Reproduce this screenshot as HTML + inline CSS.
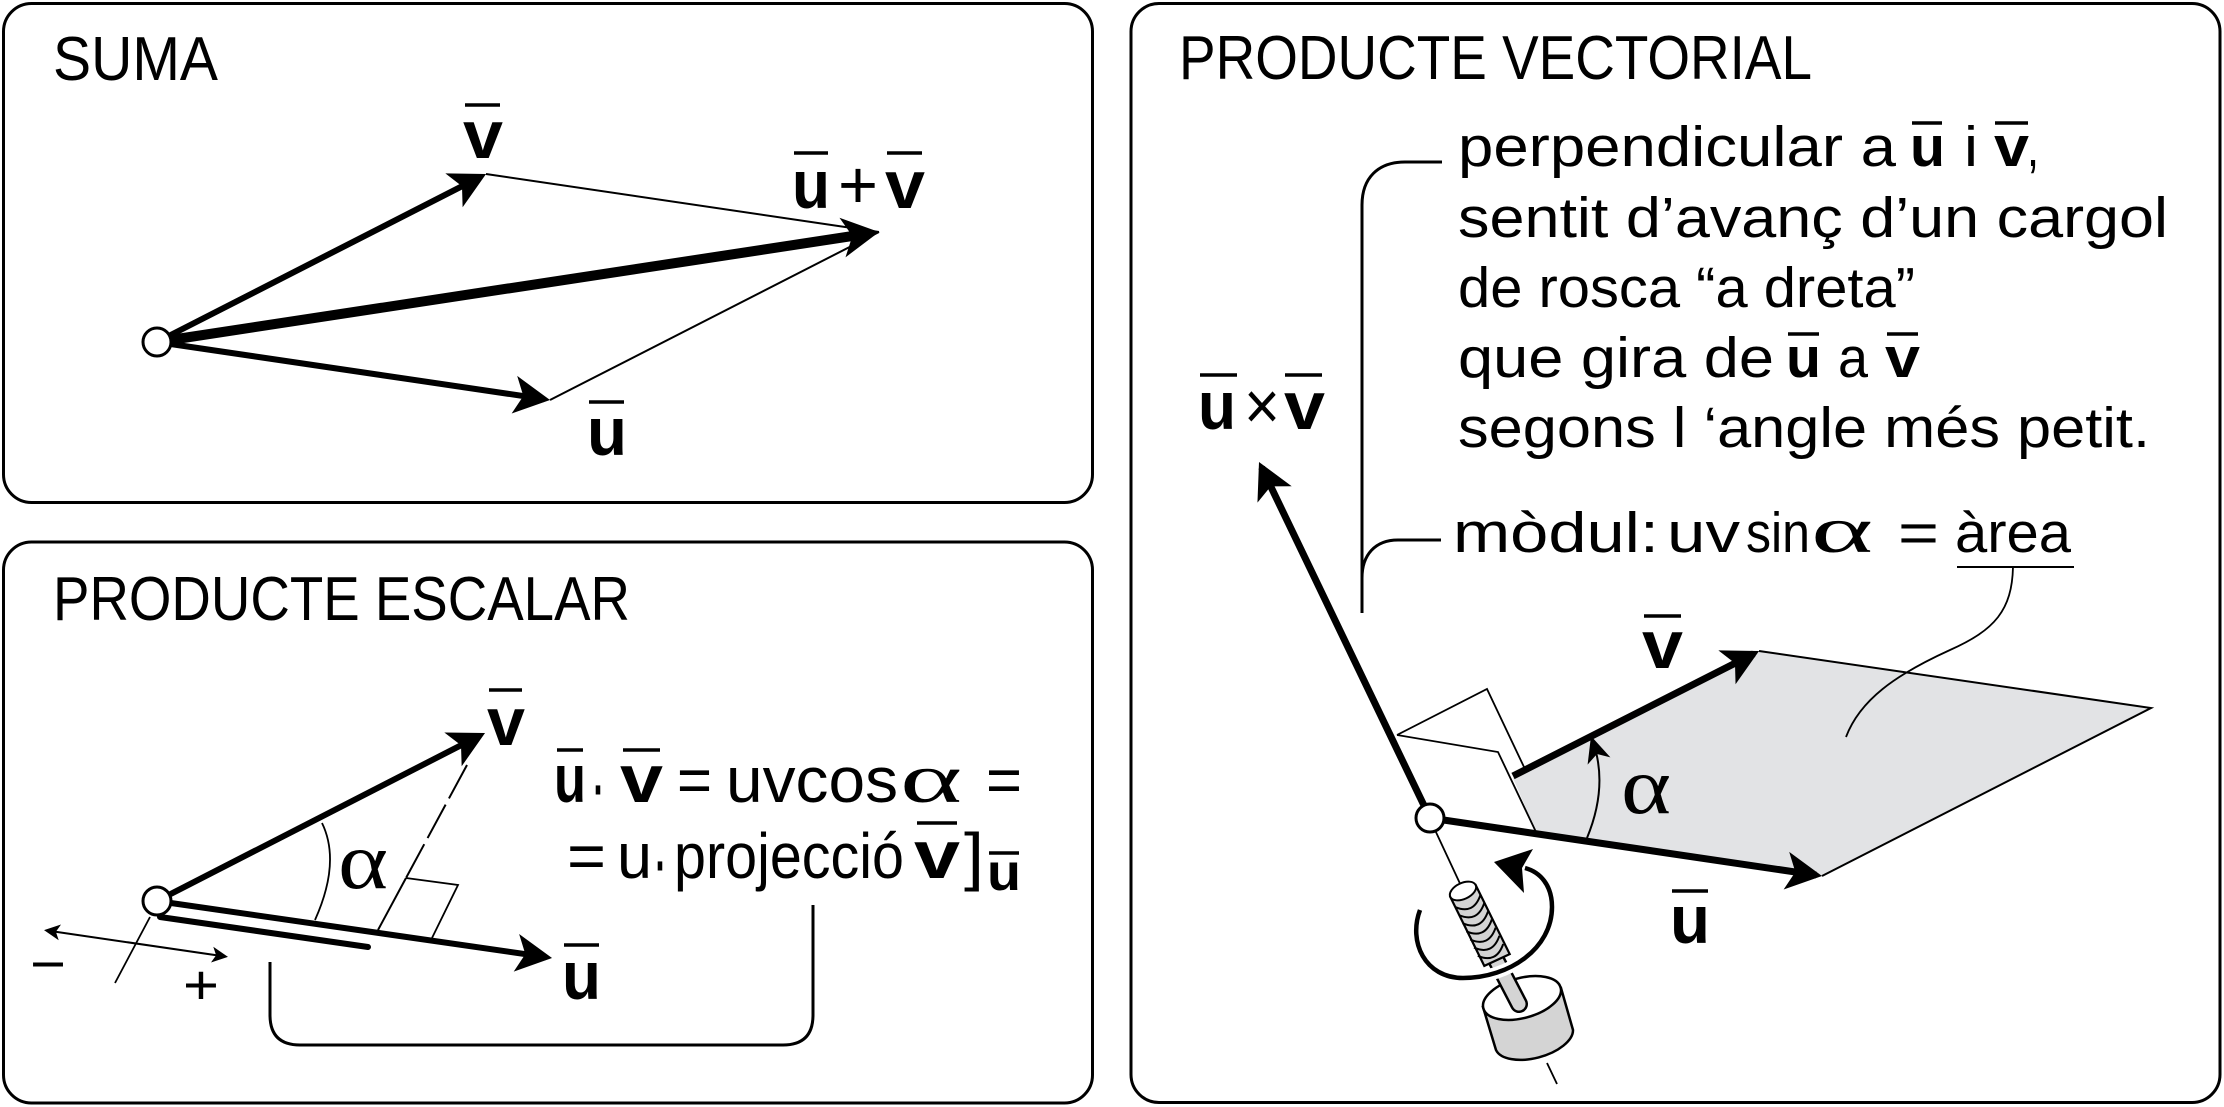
<!DOCTYPE html>
<html><head><meta charset="utf-8">
<style>
html,body{margin:0;padding:0;background:#fff;}
svg{display:block;}
text{font-family:"Liberation Sans",sans-serif;fill:#000;}
.b{font-weight:bold;}
.g{font-family:"Liberation Serif",serif;}
</style></head><body>
<svg width="2224" height="1107" viewBox="0 0 2224 1107" xmlns="http://www.w3.org/2000/svg">
<defs>
<marker id="ah" viewBox="-40 -25 50 50" markerWidth="50" markerHeight="50" refX="0" refY="0" markerUnits="userSpaceOnUse" orient="auto">
<path d="M6,0 L-30,-19 L-21,0 L-30,19 Z" fill="#000"/>
</marker>
<marker id="ahT" viewBox="-40 -25 60 50" markerWidth="60" markerHeight="50" refX="0" refY="0" markerUnits="userSpaceOnUse" orient="auto">
<path d="M14,0 L-23,-20 L-13,0 L-23,20 Z" fill="#000"/>
</marker>
<marker id="sm" viewBox="-20 -12 26 24" markerWidth="26" markerHeight="24" refX="0" refY="0" markerUnits="userSpaceOnUse" orient="auto-start-reverse">
<path d="M3,0 L-13,-8 L-9,0 L-13,8 Z" fill="#000"/>
</marker>
</defs>

<!-- Panels -->
<rect x="3.5" y="3.5" width="1089" height="499" rx="28" fill="none" stroke="#000" stroke-width="3"/>
<rect x="3.5" y="542" width="1089" height="561" rx="28" fill="none" stroke="#000" stroke-width="3"/>
<rect x="1131" y="3.5" width="1089" height="1099" rx="28" fill="none" stroke="#000" stroke-width="3"/>

<!-- Titles -->
<text x="53" y="80" font-size="62" textLength="165" lengthAdjust="spacingAndGlyphs">SUMA</text>
<text x="53" y="620" font-size="62" textLength="577" lengthAdjust="spacingAndGlyphs">PRODUCTE ESCALAR</text>
<text x="1179" y="79" font-size="62" textLength="633" lengthAdjust="spacingAndGlyphs">PRODUCTE VECTORIAL</text>

<!-- ===== SUMA ===== -->
<path d="M486,174 L879,232 M550,400 L879,232" stroke="#000" stroke-width="2" fill="none"/>
<line x1="157" y1="342" x2="480.7" y2="176.7" stroke="#000" stroke-width="6" marker-end="url(#ah)"/>
<line x1="157" y1="342" x2="544.1" y2="399.1" stroke="#000" stroke-width="6" marker-end="url(#ah)"/>
<line x1="157" y1="342" x2="865.2" y2="234.1" stroke="#000" stroke-width="10" marker-end="url(#ahT)"/>
<circle cx="157" cy="342" r="14" fill="#fff" stroke="#000" stroke-width="3"/>

<text class="b" x="463" y="158" font-size="68" textLength="40" lengthAdjust="spacingAndGlyphs">v</text>
<line x1="465" y1="105" x2="500" y2="105" stroke="#000" stroke-width="3.5"/>
<text class="b" x="792" y="208" font-size="68" textLength="38" lengthAdjust="spacingAndGlyphs">u</text>
<text x="838" y="208" font-size="68" textLength="40" lengthAdjust="spacingAndGlyphs">+</text>
<text class="b" x="885" y="208" font-size="68" textLength="40" lengthAdjust="spacingAndGlyphs">v</text>
<line x1="794" y1="153" x2="828" y2="153" stroke="#000" stroke-width="3.5"/>
<line x1="887" y1="153" x2="922" y2="153" stroke="#000" stroke-width="3.5"/>
<text class="b" x="587" y="455" font-size="68" textLength="40" lengthAdjust="spacingAndGlyphs">u</text>
<line x1="589" y1="402" x2="624" y2="402" stroke="#000" stroke-width="3.5"/>

<!-- ===== PRODUCTE ESCALAR ===== -->
<path d="M467,765 L406,878" stroke="#000" stroke-width="2" stroke-dasharray="38,7" fill="none"/>
<path d="M406,878 L378,930" stroke="#000" stroke-width="2" fill="none"/>
<path d="M406,878 L458,885 L432,938" stroke="#000" stroke-width="1.8" fill="none"/>
<path d="M322,823 Q341,862 315,920" stroke="#000" stroke-width="1.8" fill="none"/>
<line x1="157" y1="901" x2="479.7" y2="735.7" stroke="#000" stroke-width="6" marker-end="url(#ah)"/>
<line x1="157" y1="901" x2="546.1" y2="957.1" stroke="#000" stroke-width="6" marker-end="url(#ah)"/>
<path d="M160,917 L368,947" stroke="#000" stroke-width="6" stroke-linecap="round" fill="none"/>
<path d="M150,917 L115,983" stroke="#000" stroke-width="1.8" fill="none"/>
<line x1="47" y1="930.5" x2="225" y2="956.5" stroke="#000" stroke-width="2" marker-start="url(#sm)" marker-end="url(#sm)"/>
<circle cx="157" cy="901" r="14" fill="#fff" stroke="#000" stroke-width="3"/>

<text x="30" y="983" font-size="56" textLength="36" lengthAdjust="spacingAndGlyphs">−</text>
<text x="183" y="1004" font-size="56" textLength="36" lengthAdjust="spacingAndGlyphs">+</text>
<text class="g" x="338" y="888" font-size="80" textLength="50" lengthAdjust="spacingAndGlyphs">α</text>

<text class="b" x="487" y="745" font-size="68" textLength="38" lengthAdjust="spacingAndGlyphs">v</text>
<line x1="489" y1="690" x2="522" y2="690" stroke="#000" stroke-width="3.5"/>
<text class="b" x="562" y="999" font-size="68" textLength="39" lengthAdjust="spacingAndGlyphs">u</text>
<line x1="564" y1="945" x2="599" y2="945" stroke="#000" stroke-width="3.5"/>

<!-- formula -->
<text class="b" x="554" y="802" font-size="68" textLength="32" lengthAdjust="spacingAndGlyphs">u</text>
<line x1="557" y1="750" x2="583" y2="750" stroke="#000" stroke-width="3.5"/>
<text x="590" y="813" font-size="84" textLength="16" lengthAdjust="spacingAndGlyphs">·</text>
<text class="b" x="620" y="802" font-size="68" textLength="43" lengthAdjust="spacingAndGlyphs">v</text>
<line x1="623" y1="750" x2="660" y2="750" stroke="#000" stroke-width="3.5"/>
<text x="677" y="802" font-size="64" textLength="35" lengthAdjust="spacingAndGlyphs">=</text>
<text x="726" y="802" font-size="64" textLength="172" lengthAdjust="spacingAndGlyphs">uvcos</text>
<text class="g" x="900" y="802" font-size="70" textLength="62" lengthAdjust="spacingAndGlyphs">α</text>
<text x="986" y="802" font-size="64" textLength="36" lengthAdjust="spacingAndGlyphs">=</text>

<text x="567" y="878" font-size="64" textLength="39" lengthAdjust="spacingAndGlyphs">=</text>
<text x="617" y="878" font-size="64" textLength="35" lengthAdjust="spacingAndGlyphs">u</text>
<text x="652" y="889" font-size="84" textLength="16" lengthAdjust="spacingAndGlyphs">·</text>
<text x="674" y="878" font-size="64" textLength="230" lengthAdjust="spacingAndGlyphs">projecció</text>
<text class="b" x="914" y="878" font-size="68" textLength="46" lengthAdjust="spacingAndGlyphs">v</text>
<line x1="917" y1="823" x2="957" y2="823" stroke="#000" stroke-width="3.5"/>
<text x="964" y="878" font-size="64" textLength="20" lengthAdjust="spacingAndGlyphs">]</text>
<text class="b" x="987" y="890" font-size="52" textLength="34" lengthAdjust="spacingAndGlyphs">u</text>
<line x1="989" y1="853" x2="1019" y2="853" stroke="#000" stroke-width="3.5"/>

<path d="M813,905 L813,1015 Q813,1045 783,1045 L300,1045 Q270,1045 270,1015 L270,962" stroke="#000" stroke-width="3" fill="none"/>

<!-- ===== PRODUCTE VECTORIAL ===== -->
<polygon points="1513,778 1759,651 2151,708 1822,876 1536,832" fill="#e2e3e5"/>
<path d="M1759,651 L2151,708 L1822,876" stroke="#000" stroke-width="2" fill="none"/>
<path d="M1397,735 L1487,689 L1524,767" stroke="#000" stroke-width="1.8" fill="none"/>
<path d="M1397,735 L1498,752 L1536,832" stroke="#000" stroke-width="1.8" fill="none"/>

<!-- alpha arc -->
<path d="M1587,838 Q1606,792 1596,752" stroke="#000" stroke-width="2" fill="none"/>
<path d="M1591,736 L1587.6,764.6 L1597,754 L1610.4,757.4 Z" fill="#000"/>
<text class="g" x="1621" y="813" font-size="80" textLength="50" lengthAdjust="spacingAndGlyphs">α</text>

<!-- axis -->
<path d="M1435,830 L1463,890 M1547,1063 L1557,1084" stroke="#000" stroke-width="1.8" fill="none"/>

<!-- nut -->
<path d="M1483,1007 L1496,1050 A40 20 -15 0 0 1573,1030 L1561,988 Z" fill="#d4d4d4" stroke="#000" stroke-width="2.5"/>
<ellipse cx="1522" cy="998" rx="40" ry="20" transform="rotate(-15 1522 998)" fill="#fff" stroke="#000" stroke-width="2.5"/>
<!-- shaft -->
<path d="M1492,952 L1519,1004" stroke="#000" stroke-width="18" stroke-linecap="round" fill="none"/>
<path d="M1492,952 L1519,1004" stroke="#d4d4d4" stroke-width="13" stroke-linecap="round" fill="none"/>

<!-- bolt threads -->
<polygon points="1475.7,885.1 1450.3,896.9 1484.3,965.9 1509.7,954.1" fill="#d4d4d4" stroke="#000" stroke-width="2.2"/>
<g stroke="#000" stroke-width="2" fill="none">
<path d="M1455.0,906.9 Q1473.6,915.0 1480.4,895.1"/>
<path d="M1458.8,915.0 Q1477.4,923.1 1484.2,903.2"/>
<path d="M1462.6,923.2 Q1481.2,931.3 1488.0,911.4"/>
<path d="M1466.4,931.3 Q1485.0,939.4 1491.8,919.5"/>
<path d="M1470.2,939.5 Q1488.8,947.6 1495.6,927.7"/>
<path d="M1474.0,947.6 Q1492.6,955.7 1499.4,935.8"/>
<path d="M1477.8,955.8 Q1496.4,963.9 1503.2,944.0"/>
</g>
<ellipse cx="1463" cy="891" rx="14" ry="8" transform="rotate(-25 1463 891)" fill="#fff" stroke="#000" stroke-width="2"/>

<!-- rotation arrow -->
<path d="M1420,910 C1408,942 1425,978 1463,978 C1510,978 1552,948 1552,907 C1552,885 1540,872 1525,868" stroke="#fff" stroke-width="12" fill="none"/>
<path d="M1420,910 C1408,942 1425,978 1463,978 C1510,978 1552,948 1552,907 C1552,885 1540,872 1525,868" stroke="#000" stroke-width="4.5" fill="none"/>
<path d="M1494,862 L1533,849 L1522,868 L1524,893 Z" fill="#000"/>

<!-- vectors -->
<line x1="1430" y1="818" x2="1261.6" y2="467.4" stroke="#000" stroke-width="7" marker-end="url(#ah)"/>
<line x1="1430" y1="818" x2="1816.1" y2="875.1" stroke="#000" stroke-width="7" marker-end="url(#ah)"/>
<line x1="1513" y1="776" x2="1753.7" y2="653.7" stroke="#000" stroke-width="7" marker-end="url(#ah)"/>
<circle cx="1430" cy="818" r="14" fill="#fff" stroke="#000" stroke-width="3"/>

<!-- vector labels -->
<text class="b" x="1198" y="429" font-size="68" textLength="38" lengthAdjust="spacingAndGlyphs">u</text>
<text x="1244" y="429" font-size="68" textLength="36" lengthAdjust="spacingAndGlyphs">×</text>
<text class="b" x="1284" y="429" font-size="68" textLength="41" lengthAdjust="spacingAndGlyphs">v</text>
<line x1="1200" y1="375" x2="1237" y2="375" stroke="#000" stroke-width="3.5"/>
<line x1="1285" y1="375" x2="1322" y2="375" stroke="#000" stroke-width="3.5"/>

<text class="b" x="1642" y="668" font-size="68" textLength="41" lengthAdjust="spacingAndGlyphs">v</text>
<line x1="1644" y1="616" x2="1681" y2="616" stroke="#000" stroke-width="3.5"/>
<text class="b" x="1670" y="943" font-size="68" textLength="40" lengthAdjust="spacingAndGlyphs">u</text>
<line x1="1672" y1="891" x2="1708" y2="891" stroke="#000" stroke-width="3.5"/>

<!-- bracket -->
<path d="M1442,162 L1405,162 C1378,162 1362,178 1362,205 L1362,613" stroke="#000" stroke-width="3" fill="none"/>
<path d="M1362,578 C1362,555 1375,540 1398,540 L1441,540" stroke="#000" stroke-width="3" fill="none"/>

<!-- text block -->
<text x="1458" y="166" font-size="57" textLength="438" lengthAdjust="spacingAndGlyphs">perpendicular a</text>
<text class="b" x="1910" y="166" font-size="57" textLength="35" lengthAdjust="spacingAndGlyphs">u</text>
<line x1="1912" y1="123" x2="1942" y2="123" stroke="#000" stroke-width="3.5"/>
<text x="1964" y="166" font-size="57" textLength="14" lengthAdjust="spacingAndGlyphs">i</text>
<text class="b" x="1994" y="166" font-size="57" textLength="35" lengthAdjust="spacingAndGlyphs">v</text>
<line x1="1995" y1="123" x2="2028" y2="123" stroke="#000" stroke-width="3.5"/>
<text x="2027" y="166" font-size="57" textLength="12" lengthAdjust="spacingAndGlyphs">,</text>

<text x="1458" y="237" font-size="57" textLength="710" lengthAdjust="spacingAndGlyphs">sentit d’avanç d’un cargol</text>
<text x="1458" y="307" font-size="57" textLength="457" lengthAdjust="spacingAndGlyphs">de rosca “a dreta”</text>

<text x="1458" y="377" font-size="57" textLength="316" lengthAdjust="spacingAndGlyphs">que gira de</text>
<text class="b" x="1786" y="377" font-size="57" textLength="35" lengthAdjust="spacingAndGlyphs">u</text>
<line x1="1788" y1="334" x2="1819" y2="334" stroke="#000" stroke-width="3.5"/>
<text x="1838" y="377" font-size="57" textLength="30" lengthAdjust="spacingAndGlyphs">a</text>
<text class="b" x="1885" y="377" font-size="57" textLength="35" lengthAdjust="spacingAndGlyphs">v</text>
<line x1="1887" y1="334" x2="1918" y2="334" stroke="#000" stroke-width="3.5"/>

<text x="1458" y="447" font-size="57" textLength="692" lengthAdjust="spacingAndGlyphs">segons l ‘angle més petit.</text>

<text x="1453" y="552" font-size="57" textLength="206" lengthAdjust="spacingAndGlyphs">mòdul:</text>
<text x="1667" y="552" font-size="57" textLength="73" lengthAdjust="spacingAndGlyphs">uv</text>
<text x="1746" y="552" font-size="57" textLength="64" lengthAdjust="spacingAndGlyphs">sin</text>
<text class="g" x="1811" y="552" font-size="66" textLength="62" lengthAdjust="spacingAndGlyphs">α</text>
<text x="1898" y="552" font-size="57" textLength="41" lengthAdjust="spacingAndGlyphs">=</text>
<text x="1955" y="552" font-size="57" textLength="116" lengthAdjust="spacingAndGlyphs">àrea</text>
<line x1="1957" y1="567" x2="2074" y2="567" stroke="#000" stroke-width="2"/>
<path d="M2013,567 C2012,610 1995,630 1950,650 C1895,675 1860,700 1846,737" stroke="#000" stroke-width="1.8" fill="none"/>

</svg>
</body></html>
